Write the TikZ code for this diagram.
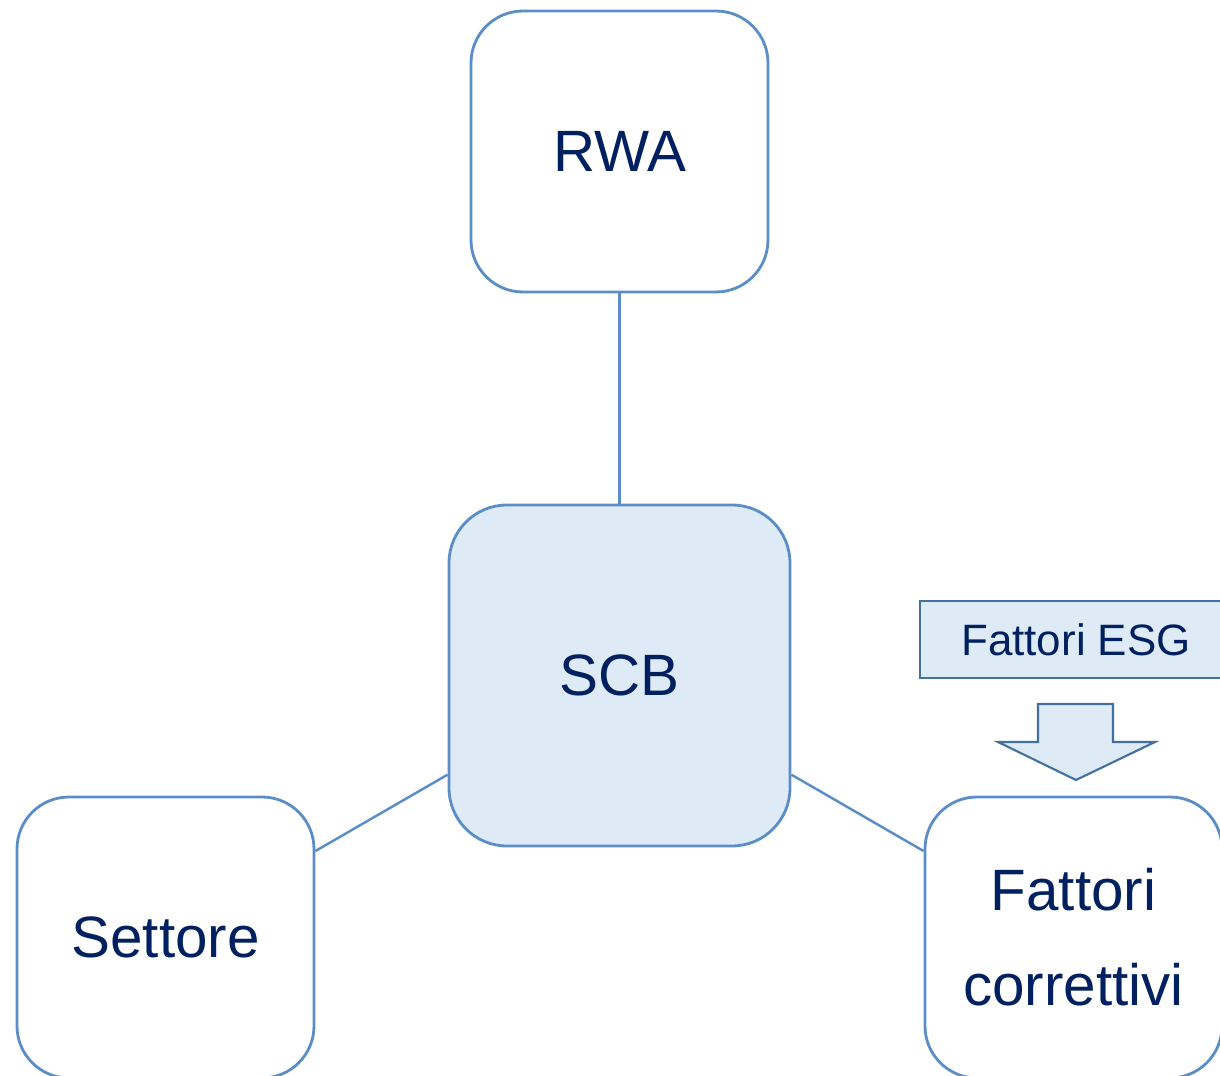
\documentclass[tikz,border=0pt]{standalone}
\usepackage{fontspec}
\setmainfont{Liberation Sans}
\usepackage{tikz}

\definecolor{bordo}{HTML}{5B8EC6}
\definecolor{bordoscuro}{HTML}{41719C}
\definecolor{riemp}{HTML}{DEEAF6}
\definecolor{testo}{HTML}{002060}

\begin{document}
\begin{tikzpicture}
    \tikzset{
    blk/.style={rectangle,rounded corners=0.52cm,draw=bordo,line width=0.8pt,text=testo,font=\fontsize{16.6}{27}\selectfont,minimum width=2.97cm,minimum height=2.81cm,align=center},
    blkc/.style={blk,fill=riemp,minimum width=3.41cm,minimum height=3.41cm,rounded corners=0.58cm},
    tag/.style={rectangle,draw=bordoscuro,fill=riemp,line width=0.6pt,text=testo,font=\fontsize{12.5}{15}\selectfont,minimum width=3.12cm,minimum height=0.77cm},
    c1/.style={-,draw=bordo,line width=0.7pt},
    }
    \useasboundingbox (0,0) rectangle (12.2,10.76);
    \node[blk] (rwa) at (6.195,9.245) {RWA};
    \node[blkc] (scb) at (6.195,4.005) {SCB};
    \node[blk] (set) at (1.655,1.385) {Settore};
    \node[blk] (fc) at (10.735,1.385) {Fattori\\correttivi};
    \node[tag] (esg) at (10.76,4.365) {Fattori ESG};

    \draw[c1] (rwa) -- (scb);
    \draw[c1] (scb) -- (set);
    \draw[c1] (scb) -- (fc);

    % freccia ESG
    \draw[fill=riemp,draw=bordoscuro,line width=0.6pt] (10.38,3.72) -- (11.13,3.72) -- (11.13,3.34) -- (11.55,3.34) -- (10.76,2.96) -- (9.98,3.34) -- (10.38,3.34) -- cycle;
\end{tikzpicture}
\end{document}
